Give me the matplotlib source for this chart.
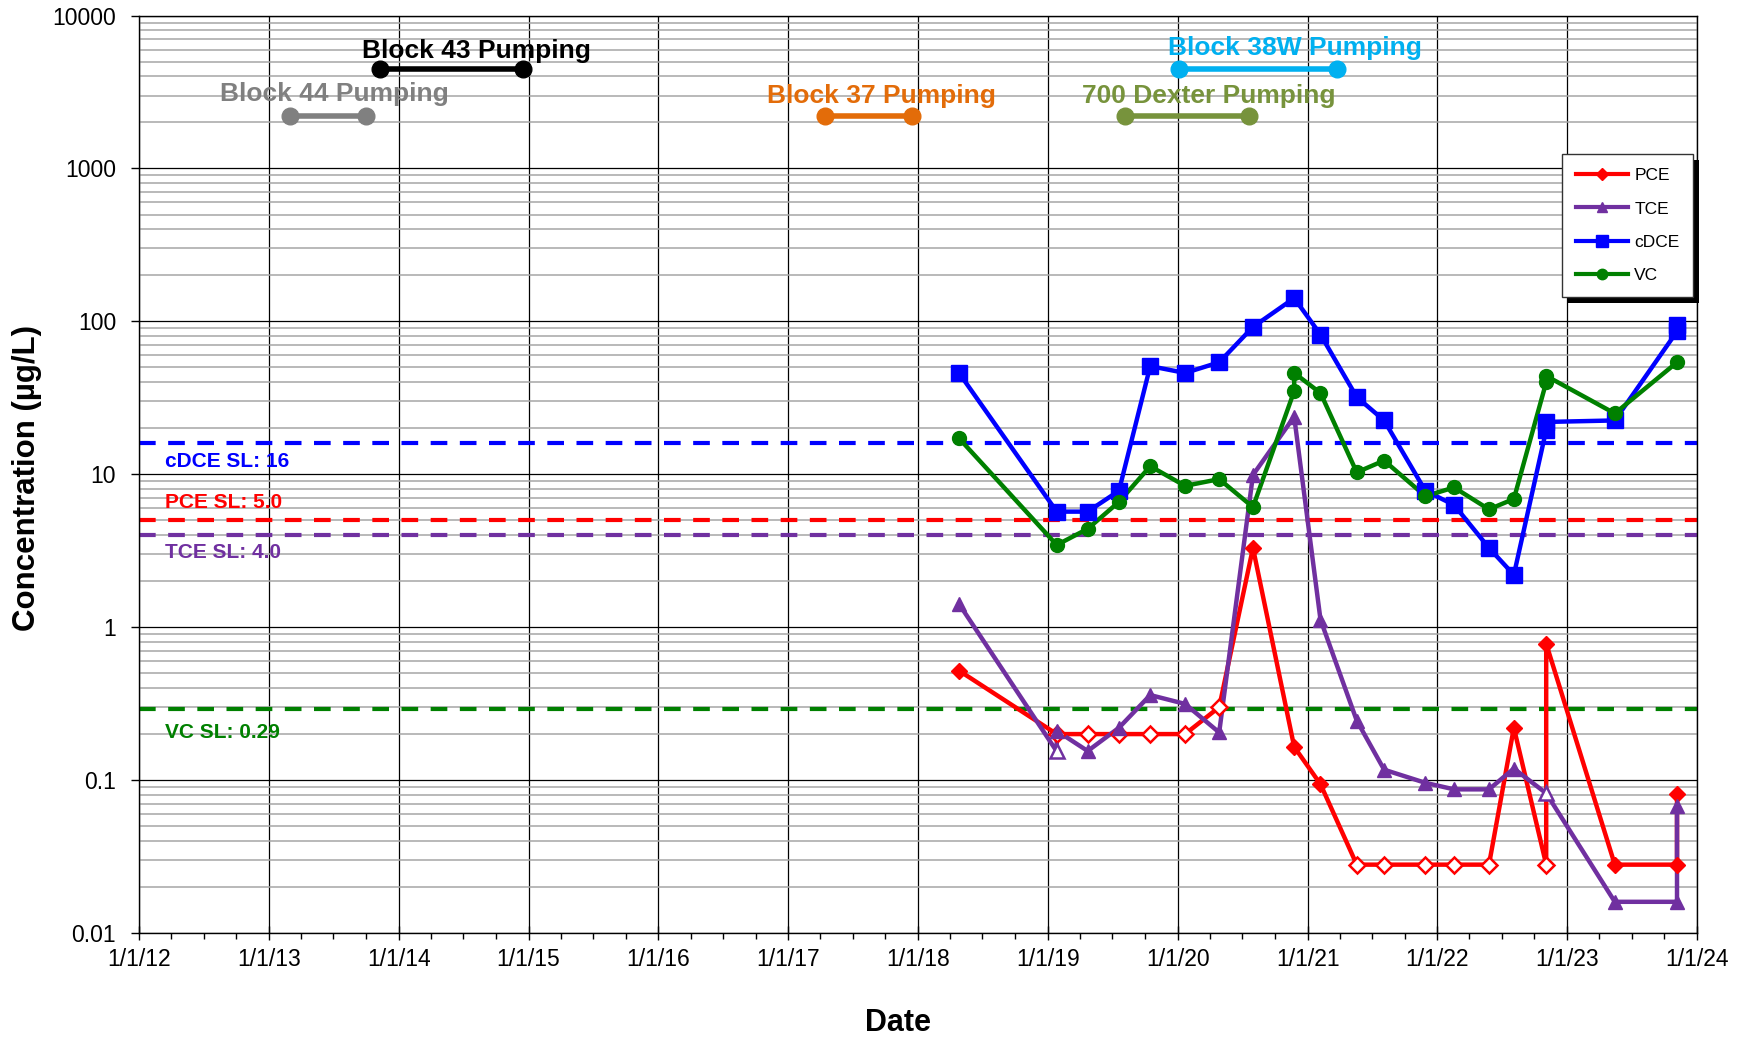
import matplotlib
matplotlib.use("Agg")
import matplotlib.pyplot as plt
import matplotlib.dates as mdates
from matplotlib.ticker import LogLocator, FixedLocator, NullFormatter
from matplotlib.patches import Rectangle
import numpy as np
import datetime as dt

plt.rcParams['font.family'] = ['Liberation Sans', 'DejaVu Sans']

def d(s):
    return dt.datetime.strptime(s, "%Y-%m-%d")

# ---------------- data ----------------
pce_dates = ["2018-04-26", "2019-01-26", "2019-04-23", "2019-07-20", "2019-10-16", "2020-01-22",
             "2020-04-27", "2020-07-31", "2020-11-24", "2021-02-06", "2021-05-19", "2021-08-04",
             "2021-11-28", "2022-02-17", "2022-05-26", "2022-08-04", "2022-11-03", "2022-11-03",
             "2023-05-15", "2023-11-06", "2023-11-06"]
pce_values = [0.52, 0.20, 0.20, 0.20, 0.20, 0.20,
              0.30, 3.3, 0.165, 0.094, 0.028, 0.028,
              0.028, 0.028, 0.028, 0.22, 0.028, 0.78,
              0.028, 0.028, 0.081]
pce_nondetect = [False, True, True, True, True, True,
                 True, False, False, False, True, True,
                 True, True, True, False, True, False,
                 False, False, False]

tce_dates = ["2018-04-26", "2019-01-26", "2019-01-26", "2019-04-23", "2019-07-20", "2019-10-16",
             "2020-01-22", "2020-04-27", "2020-07-31", "2020-11-24", "2021-02-06", "2021-05-19",
             "2021-08-04", "2021-11-28", "2022-02-17", "2022-05-26", "2022-08-04", "2022-11-03",
             "2023-05-15", "2023-11-06", "2023-11-06"]
tce_values = [1.42, 0.154, 0.21, 0.155, 0.22, 0.36,
              0.315, 0.205, 9.9, 23.8, 1.12, 0.245,
              0.117, 0.096, 0.087, 0.087, 0.119, 0.082,
              0.016, 0.016, 0.068]
tce_nondetect = [False, True, False, False, False, False,
                 False, False, False, False, False, False,
                 False, False, False, False, False, True,
                 False, False, False]

cdce_dates = ["2018-04-26", "2019-01-26", "2019-04-23", "2019-07-20", "2019-10-16", "2020-01-22",
              "2020-04-27", "2020-07-31", "2020-11-24", "2021-02-06", "2021-05-19", "2021-08-04",
              "2021-11-28", "2022-02-17", "2022-05-26", "2022-08-04", "2022-11-03", "2022-11-03",
              "2023-05-15", "2023-11-06", "2023-11-06"]
cdce_values = [46, 5.7, 5.7, 7.8, 51, 46,
               54, 92, 142, 82, 32, 22.5,
               7.8, 6.3, 3.3, 2.2, 19.5, 22.0,
               22.5, 86, 95]

vc_dates = ["2018-04-26", "2019-01-26", "2019-04-23", "2019-07-20", "2019-10-16", "2020-01-22",
            "2020-04-27", "2020-07-31", "2020-11-24", "2020-11-24", "2021-02-06", "2021-05-19",
            "2021-08-04", "2021-11-28", "2022-02-17", "2022-05-26", "2022-08-04", "2022-11-03",
            "2022-11-03", "2023-05-15", "2023-11-06"]
vc_values = [17.2, 3.45, 4.4, 6.6, 11.3, 8.4,
             9.3, 6.1, 35, 46, 34, 10.3,
             12.3, 7.2, 8.2, 5.9, 6.9, 40,
             44, 25, 54]

screening_names = ["cDCE SL: 16", "PCE SL: 5.0", "TCE SL: 4.0", "VC SL: 0.29"]
screening_levels = [16, 5.0, 4.0, 0.29]

pump_names = ["Block 44 Pumping", "Block 43 Pumping", "Block 37 Pumping",
              "700 Dexter Pumping", "Block 38W Pumping"]
pump_start = ["2013-03-01", "2013-11-10", "2017-04-15", "2019-08-07", "2020-01-05"]
pump_end = ["2013-10-01", "2014-12-15", "2017-12-15", "2020-07-20", "2021-03-25"]
pump_level = [2200, 4500, 2200, 2200, 4500]

x_tick_labels = ["1/1/12", "1/1/13", "1/1/14", "1/1/15", "1/1/16", "1/1/17", "1/1/18",
                 "1/1/19", "1/1/20", "1/1/21", "1/1/22", "1/1/23", "1/1/24"]
y_tick_labels = ["0.01", "0.1", "1", "10", "100", "1000", "10000"]

# ---------------- styles ----------------
C_PCE = "#FF0000"
C_TCE = "#7030A0"
C_CDCE = "#0000FF"
C_VC = "#008000"
pump_colors = ["#808080", "#000000", "#E36C09", "#77933C", "#00B0F0"]
sl_colors = [C_CDCE, C_PCE, C_TCE, C_VC]
sl_offsets = [-13, 13, -12.5, -16.5]
pump_text_dx = [0.05, 0.19, 0.095, 0.165, 0.28]   # years
pump_text_dy = [16, 13, 14.5, 14.5, 15]           # points

fig = plt.figure(figsize=(17.44, 10.39), dpi=100)
ax = fig.add_axes([0.0797, 0.102, 0.8933, 0.883])

ax.set_yscale("log")
ax.set_ylim(0.01, 10000)
ax.set_xlim(d("2012-01-01"), d("2024-01-01"))

# grid
ax.set_axisbelow(True)
ax.yaxis.set_minor_locator(LogLocator(base=10, subs=np.arange(2, 10), numticks=100))
ax.yaxis.set_minor_formatter(NullFormatter())
ax.set_yticks([0.01, 0.1, 1, 10, 100, 1000, 10000])
ax.set_yticklabels(y_tick_labels)
ax.grid(which="minor", axis="y", color="#A6A6A6", lw=1.1)
ax.grid(which="major", axis="y", color="#000000", lw=0.9)

xt = [mdates.date2num(d("20%s-01-01" % s.split("/")[-1])) for s in x_tick_labels]
ax.set_xticks(xt)
ax.set_xticklabels(x_tick_labels)
minor = []
for t in range(2012, 2024):
    for m in (4, 7, 10):
        minor.append(mdates.date2num(dt.datetime(t, m, 1)))
ax.xaxis.set_minor_locator(FixedLocator(minor))
ax.grid(which="major", axis="x", color="#000000", lw=0.9)

ax.tick_params(axis="y", which="major", labelsize=16.5, length=5.5, width=1, direction="out", pad=11)
ax.tick_params(axis="x", which="major", labelsize=16.5, length=10, width=1, direction="inout", pad=6)
ax.tick_params(axis="x", which="minor", length=4, width=1, direction="out")
ax.tick_params(axis="y", which="minor", length=0)
for sp in ax.spines.values():
    sp.set_linewidth(1.0)
    sp.set_color("black")

# screening levels
for name, lvl, c, off in zip(screening_names, screening_levels, sl_colors, sl_offsets):
    ax.axhline(lvl, color=c, lw=3, ls=(0, (4, 3)), zorder=2)
    ax.annotate(name, xy=(mdates.date2num(d("2012-03-15")), lvl), xytext=(0, off),
                textcoords="offset points", color=c, fontsize=15, fontweight="bold",
                ha="left", va="center")

# pumping periods
for name, s, e, lvl, c, dx, dy in zip(pump_names, pump_start, pump_end, pump_level,
                                      pump_colors, pump_text_dx, pump_text_dy):
    ax.plot([d(s), d(e)], [lvl, lvl], color=c, lw=4, marker="o", ms=12, zorder=5,
            solid_capstyle="butt")
    xc = mdates.date2num(d(s)) + (mdates.date2num(d(e)) - mdates.date2num(d(s))) / 2 + dx * 365.25
    ax.annotate(name, xy=(xc, lvl), xytext=(0, dy), textcoords="offset points",
                color=c, fontsize=19, fontweight="bold", ha="center", va="center", zorder=6)

# data series
def series(dates, vals, color, marker, ms, label, nd=None):
    x = [d(s) for s in dates]
    ax.plot(x, vals, color=color, lw=3.2, zorder=7)
    if nd is None:
        nd = [False] * len(vals)
    xf = [xx for xx, n in zip(x, nd) if not n]
    yf = [v for v, n in zip(vals, nd) if not n]
    xh = [xx for xx, n in zip(x, nd) if n]
    yh = [v for v, n in zip(vals, nd) if n]
    ax.plot(xf, yf, ls="none", marker=marker, ms=ms, color=color, mec=color, zorder=8)
    if xh:
        ax.plot(xh, yh, ls="none", marker=marker, ms=ms, mfc="white", mec=color, mew=1.8, zorder=8)
    ax.plot([], [], color=color, lw=3, marker=marker, ms=ms * 0.75, label=label)

series(pce_dates, pce_values, C_PCE, "D", 8, "PCE", pce_nondetect)
series(tce_dates, tce_values, C_TCE, "^", 10, "TCE", tce_nondetect)
series(cdce_dates, cdce_values, C_CDCE, "s", 11, "cDCE")
series(vc_dates, vc_values, C_VC, "o", 10, "VC")

# legend with black shadow
leg = ax.legend(loc="upper left", bbox_to_anchor=(0.9135, 0.849), fontsize=12.5,
                handlelength=3.0, handletextpad=0.35, labelspacing=1.05, borderpad=0.8,
                frameon=True, fancybox=False, edgecolor="#333333", framealpha=1,
                borderaxespad=0)
leg.get_frame().set_linewidth(1.0)
leg.set_zorder(20)

ax.set_ylabel("Concentration (µg/L)", fontsize=22.5, fontweight="bold")
ax.yaxis.set_label_coords(-0.0625, 0.496)
ax.set_xlabel("Date", fontsize=22, fontweight="bold")
ax.xaxis.set_label_coords(0.4875, -0.0815)

fig.canvas.draw()
bb = leg.get_window_extent()
shadow = Rectangle((bb.x0 + 6, bb.y0 - 6), bb.width, bb.height, transform=None,
                   facecolor="black", edgecolor="none", zorder=19)
fig.patches.append(shadow)
leg.remove()
fig.add_artist(leg)
leg.set_zorder(21)

fig.savefig("out.png", dpi=100)
